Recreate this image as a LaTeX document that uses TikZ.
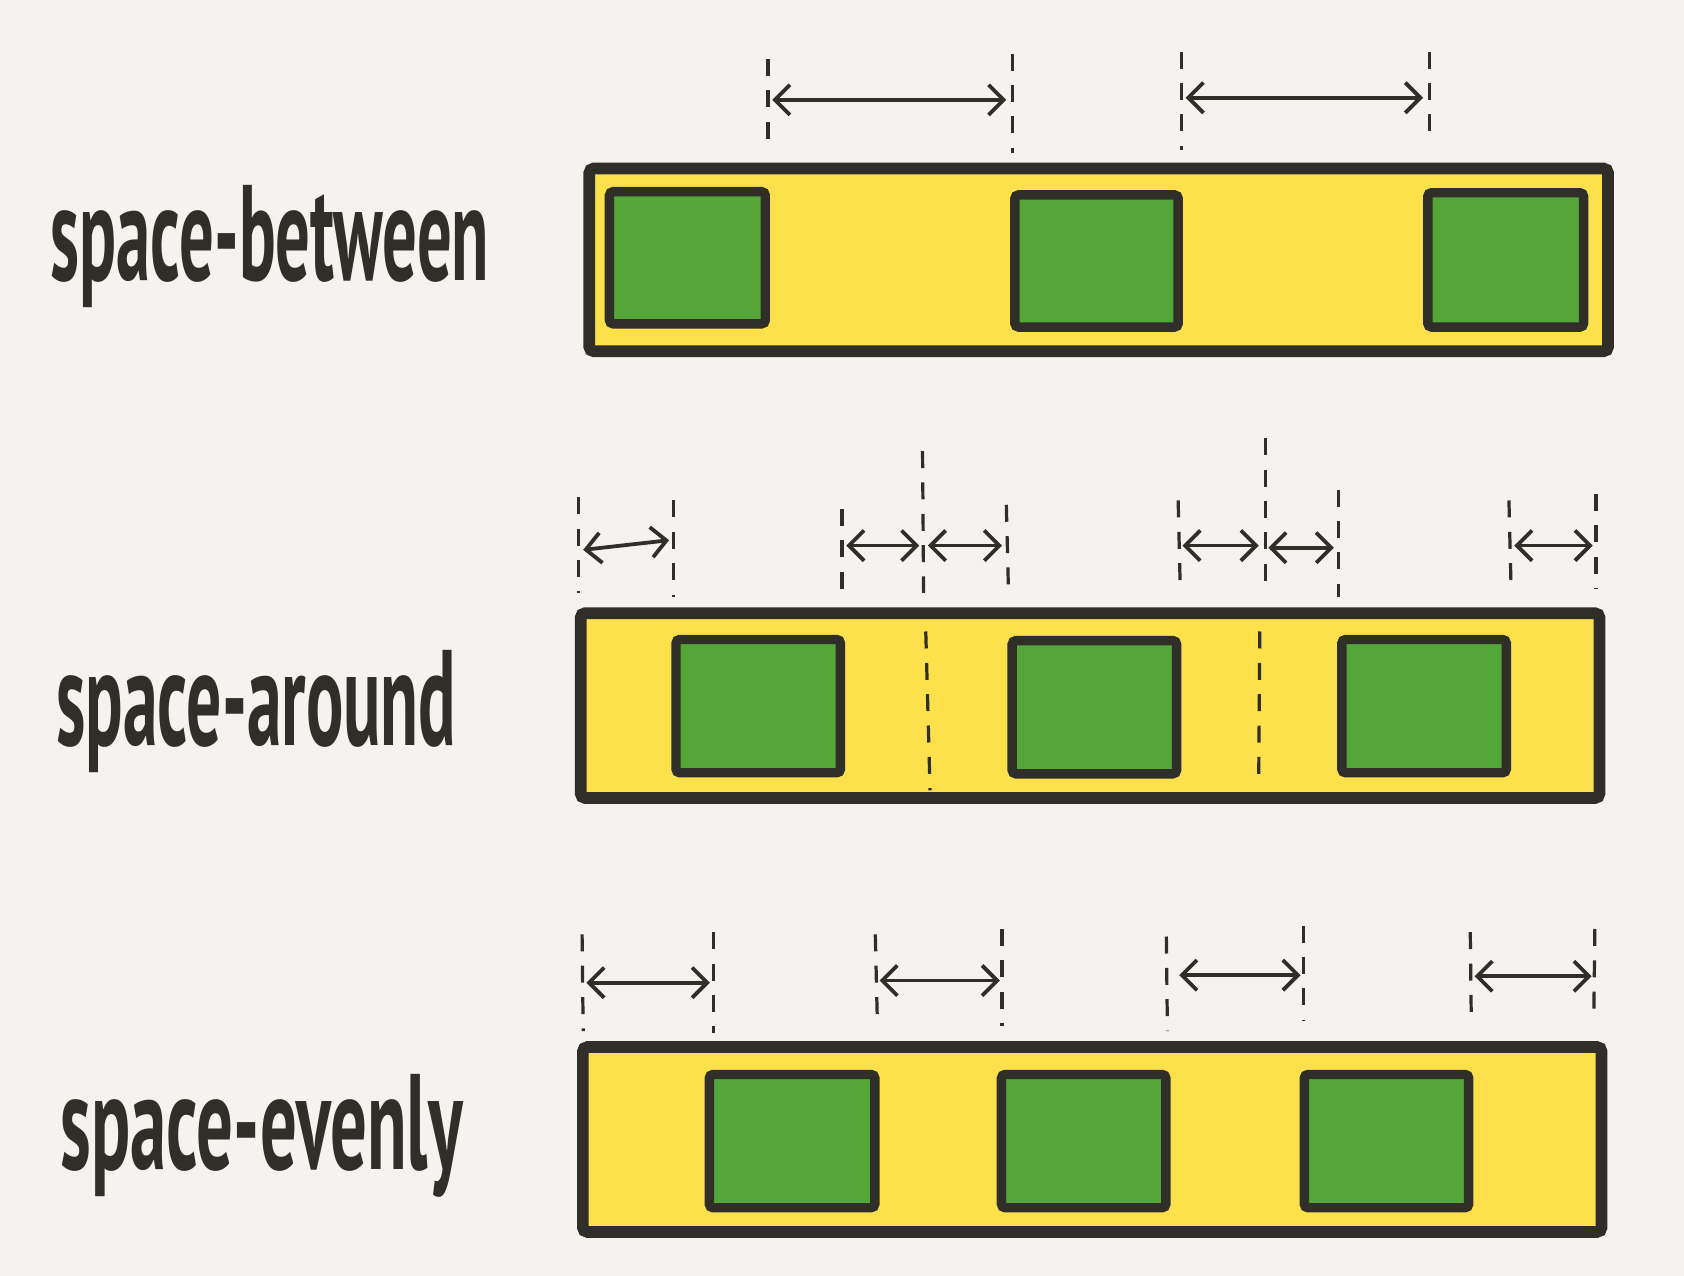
\documentclass[tikz,border=0pt]{standalone}
\usepackage{fontspec}
\setmainfont{PT Sans}
\usetikzlibrary{arrows.meta}
\definecolor{bg}{HTML}{F5F3EF}
\definecolor{ink}{HTML}{302E29}
\definecolor{yel}{HTML}{FCE04C}
\definecolor{grn}{HTML}{53A637}
\tikzset{
  cont/.style={draw=ink, fill=yel, line width=3.1pt, rounded corners=1.2pt, inner sep=0pt, outer sep=0pt},
  gbox/.style={draw=ink, fill=grn, line width=2.5pt, rounded corners=1pt, inner sep=0pt, outer sep=0pt},
  dline/.style={draw=ink, line width=0.85pt, dash pattern=on 4.5pt off 3.8pt},
  darr/.style={draw=ink, line width=1pt, {Straight Barb[length=4pt,width=8pt]}-{Straight Barb[length=4pt,width=8pt]}},
  lbl/.style={text=ink, font=\bfseries\fontsize{36}{36}\selectfont, anchor=base west, inner sep=0pt}
}
\begin{document}
\begin{tikzpicture}[x=0.01cm,y=-0.01cm]
\fill[bg] (0,0) rectangle (1568,1188);
\useasboundingbox (0,0) rectangle (1568,1188);

% labels
\node[lbl, xscale=0.505] (l1) at (47,261) {space-between};
\node[lbl, xscale=0.512] (l2) at (52,694) {space-around};
\node[lbl, xscale=0.535] (l3) at (56,1089) {space-evenly};

% row 1
\node[cont, minimum width=9.48cm, minimum height=1.70cm] (c1) at (1023,242) {};
\node[gbox, minimum width=1.45cm, minimum height=1.23cm] (b11) at (640,240) {};
\node[gbox, minimum width=1.52cm, minimum height=1.23cm] (b12) at (1021,243) {};
\node[gbox, minimum width=1.45cm, minimum height=1.25cm] (b13) at (1402,242) {};
\coordinate (v11t) at (715,55);  \coordinate (v11b) at (715,140);
\coordinate (v12t) at (943,50);  \coordinate (v12b) at (943,142);
\coordinate (v13t) at (1100,48); \coordinate (v13b) at (1100,140);
\coordinate (v14t) at (1331,48); \coordinate (v14b) at (1331,135);
\foreach \i in {1,2,3,4} \draw[dline] (v1\i t) -- (v1\i b);
\coordinate (a11) at (719,93); \coordinate (a12) at (937,93);
\coordinate (a13) at (1104,91); \coordinate (a14) at (1325,91);
\draw[darr] (a11) -- (a12);
\draw[darr] (a13) -- (a14);

% row 2
\node[cont, minimum width=9.48cm, minimum height=1.72cm] (c2) at (1015,657) {};
\node[gbox, minimum width=1.53cm, minimum height=1.24cm] (b21) at (706,657.5) {};
\node[gbox, minimum width=1.53cm, minimum height=1.24cm] (b22) at (1019,658.5) {};
\node[gbox, minimum width=1.53cm, minimum height=1.24cm] (b23) at (1326,657.5) {};
\coordinate (m21t) at (862,588); \coordinate (m21b) at (866,736);
\coordinate (m22t) at (1173,588); \coordinate (m22b) at (1172,730);
\draw[dline] (m21t) -- (m21b);
\draw[dline] (m22t) -- (m22b);
\coordinate (v21t) at (539,463);  \coordinate (v21b) at (539,552);
\coordinate (v22t) at (627,466);  \coordinate (v22b) at (627,556);
\coordinate (v23t) at (784,474);  \coordinate (v23b) at (784,552);
\coordinate (v24t) at (859,420);  \coordinate (v24b) at (860,552);
\coordinate (v25t) at (937,470);  \coordinate (v25b) at (939,550);
\coordinate (v26t) at (1097,466); \coordinate (v26b) at (1099,550);
\coordinate (v27t) at (1178,408); \coordinate (v27b) at (1178,548);
\coordinate (v28t) at (1246,456); \coordinate (v28b) at (1246,556);
\coordinate (v29t) at (1405,466); \coordinate (v29b) at (1407,548);
\coordinate (v2at) at (1486,460); \coordinate (v2ab) at (1486,548);
\foreach \i in {1,...,9,a} \draw[dline] (v2\i t) -- (v2\i b);
\coordinate (a21) at (543,512);  \coordinate (a22) at (623,503);
\coordinate (a23) at (788,508);  \coordinate (a24) at (856,508);
\coordinate (a25) at (864,508);  \coordinate (a26) at (933,508);
\coordinate (a27) at (1101,508); \coordinate (a28) at (1172,508);
\coordinate (a29) at (1181,510); \coordinate (a2a) at (1242,510);
\coordinate (a2b) at (1410,508); \coordinate (a2c) at (1483,508);
\draw[darr] (a21) -- (a22);
\draw[darr] (a23) -- (a24);
\draw[darr] (a25) -- (a26);
\draw[darr] (a27) -- (a28);
\draw[darr] (a29) -- (a2a);
\draw[darr] (a2b) -- (a2c);

% row 3
\node[cont, minimum width=9.48cm, minimum height=1.72cm] (c3) at (1017,1061) {};
\node[gbox, minimum width=1.54cm, minimum height=1.24cm] (b31) at (737.5,1062.5) {};
\node[gbox, minimum width=1.53cm, minimum height=1.24cm] (b32) at (1009,1062.5) {};
\node[gbox, minimum width=1.53cm, minimum height=1.24cm] (b33) at (1291,1062.5) {};
\coordinate (v31t) at (542,870);  \coordinate (v31b) at (543,960);
\coordinate (v32t) at (664,868);  \coordinate (v32b) at (664,962);
\coordinate (v33t) at (815,870);  \coordinate (v33b) at (817,955);
\coordinate (v34t) at (933,865);  \coordinate (v34b) at (933,955);
\coordinate (v35t) at (1086,872); \coordinate (v35b) at (1087,960);
\coordinate (v36t) at (1214,862); \coordinate (v36b) at (1214,950);
\coordinate (v37t) at (1369,868); \coordinate (v37b) at (1370,955);
\coordinate (v38t) at (1485,865); \coordinate (v38b) at (1484,950);
\foreach \i in {1,...,8} \draw[dline] (v3\i t) -- (v3\i b);
\coordinate (a31) at (546,915);  \coordinate (a32) at (661,915);
\coordinate (a33) at (819,913);  \coordinate (a34) at (931,913);
\coordinate (a35) at (1098,908); \coordinate (a36) at (1211,908);
\coordinate (a37) at (1373,909); \coordinate (a38) at (1482,909);
\draw[darr] (a31) -- (a32);
\draw[darr] (a33) -- (a34);
\draw[darr] (a35) -- (a36);
\draw[darr] (a37) -- (a38);
\end{tikzpicture}
\end{document}
